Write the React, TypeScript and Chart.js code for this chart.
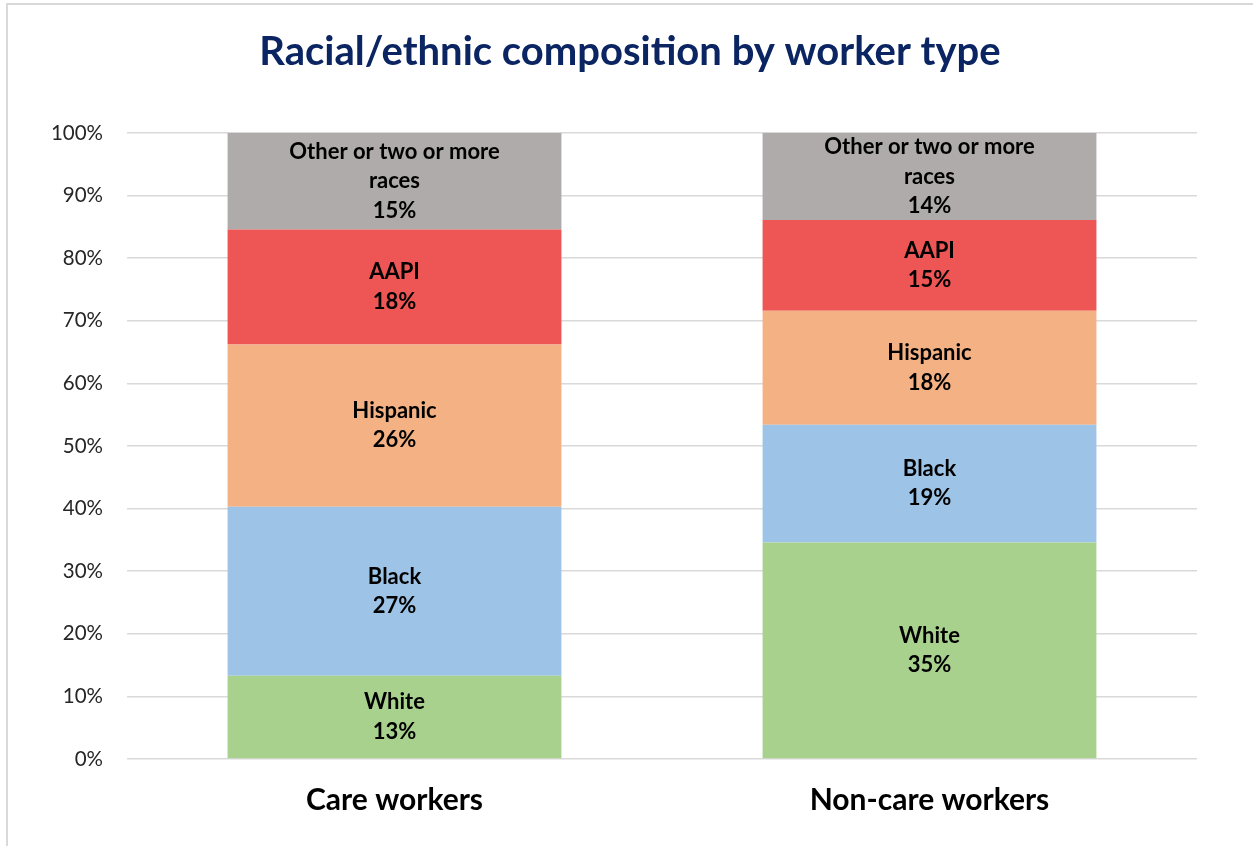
import React, { useEffect, useRef } from "react";
import { Chart, registerables } from "chart.js";

Chart.register(...registerables);

const TITLE = "Racial/ethnic composition by worker type";
const CATEGORIES = ["Care workers", "Non-care workers"];
const SERIES = ["White", "Black", "Hispanic", "AAPI", "Other or two or more races"];
const SERIES_LABEL_LINES = [["White"], ["Black"], ["Hispanic"], ["AAPI"], ["Other or two or more", "races"]];
const WHITE = [13.3, 34.6];
const BLACK = [27.0, 18.8];
const HISPANIC = [25.9, 18.2];
const AAPI = [18.4, 14.5];
const OTHER = [15.4, 13.9];
const COLORS = ["#A9D18E", "#9DC3E6", "#F4B183", "#EE5555", "#AEABAA"];
const Y_TICKS = [0, 10, 20, 30, 40, 50, 60, 70, 80, 90, 100];

const FONT = "Lato, 'Open Sans', sans-serif";

const labelPlugin = {
  id: "segLabels",
  afterDatasetsDraw(chart: any) {
    const ctx = chart.ctx;
    ctx.save();
    ctx.fillStyle = "#000000";
    ctx.font = `bold 22px ${FONT}`;
    ctx.textAlign = "center";
    ctx.textBaseline = "middle";
    const lh = 29.5;
    chart.data.datasets.forEach((ds: any, di: number) => {
      const meta = chart.getDatasetMeta(di);
      meta.data.forEach((el: any, i: number) => {
        const v = ds.data[i];
        const lines = [...SERIES_LABEL_LINES[di], `${Math.round(v)}%`];
        const cy = (el.y + el.base) / 2;
        const start = cy - ((lines.length - 1) * lh) / 2;
        lines.forEach((t, k) => ctx.fillText(t, el.x, start + k * lh));
      });
    });
    ctx.restore();
  },
};

export default function App() {
  const ref = useRef<HTMLCanvasElement>(null);
  useEffect(() => {
    if (!ref.current) return;
    const values = [WHITE, BLACK, HISPANIC, AAPI, OTHER];
    const chart = new Chart(ref.current, {
      type: "bar",
      data: {
        labels: CATEGORIES,
        datasets: SERIES.map((s, i) => ({
          label: s,
          data: values[i],
          backgroundColor: COLORS[i],
          borderWidth: 0,
          barPercentage: 0.624,
          categoryPercentage: 1,
          yAxisID: "y",
        })),
      },
      options: {
        responsive: false,
        animation: false,
        layout: { padding: { left: 7, right: 0, top: 0, bottom: 5 } },
        plugins: {
          legend: { display: false },
          tooltip: { enabled: false },
          title: {
            display: true,
            text: TITLE,
            color: "#0B2563",
            font: { family: FONT, size: 40, weight: "bold", lineHeight: 1.2 },
            padding: { top: 28, bottom: 57 },
          },
        },
        scales: {
          x: {
            stacked: true,
            grid: { display: false, drawTicks: false },
            border: { display: false },
            ticks: {
              color: "#000000",
              padding: 23,
              font: { family: FONT, size: 30, weight: "bold" },
            },
          },
          y: {
            stacked: true,
            min: 0,
            max: 100,
            afterFit: (scale: any) => {
              scale.width = 120;
            },
            afterBuildTicks: (scale: any) => {
              scale.ticks = Y_TICKS.map((v) => ({ value: v }));
            },
            grid: { color: "#D9D9D9", lineWidth: 1.5, drawTicks: false },
            border: { display: false },
            ticks: {
              color: "#262626",
              padding: 24,
              font: { family: FONT, size: 20.5 },
              callback: (v: any) => `${v}%`,
            },
          },
          yRight: {
            position: "right",
            display: true,
            min: 0,
            max: 100,
            afterFit: (scale: any) => {
              scale.width = 56;
            },
            grid: { display: false, drawTicks: false },
            border: { display: false },
            ticks: { display: false },
          },
        },
      },
      plugins: [labelPlugin],
    });
    return () => chart.destroy();
  }, []);

  return (
    <div style={{ position: "absolute", left: 0, top: 0, width: 1253, height: 846, overflow: "hidden", background: "#fff" }}>
      <div
        style={{
          position: "absolute",
          left: 6,
          top: 3,
          width: 1400,
          height: 1000,
          border: "2px solid #D9D9D9",
          boxSizing: "border-box",
        }}
      />
      <canvas ref={ref} width={1253} height={846} style={{ position: "absolute", left: 0, top: 0 }} />
    </div>
  );
}
